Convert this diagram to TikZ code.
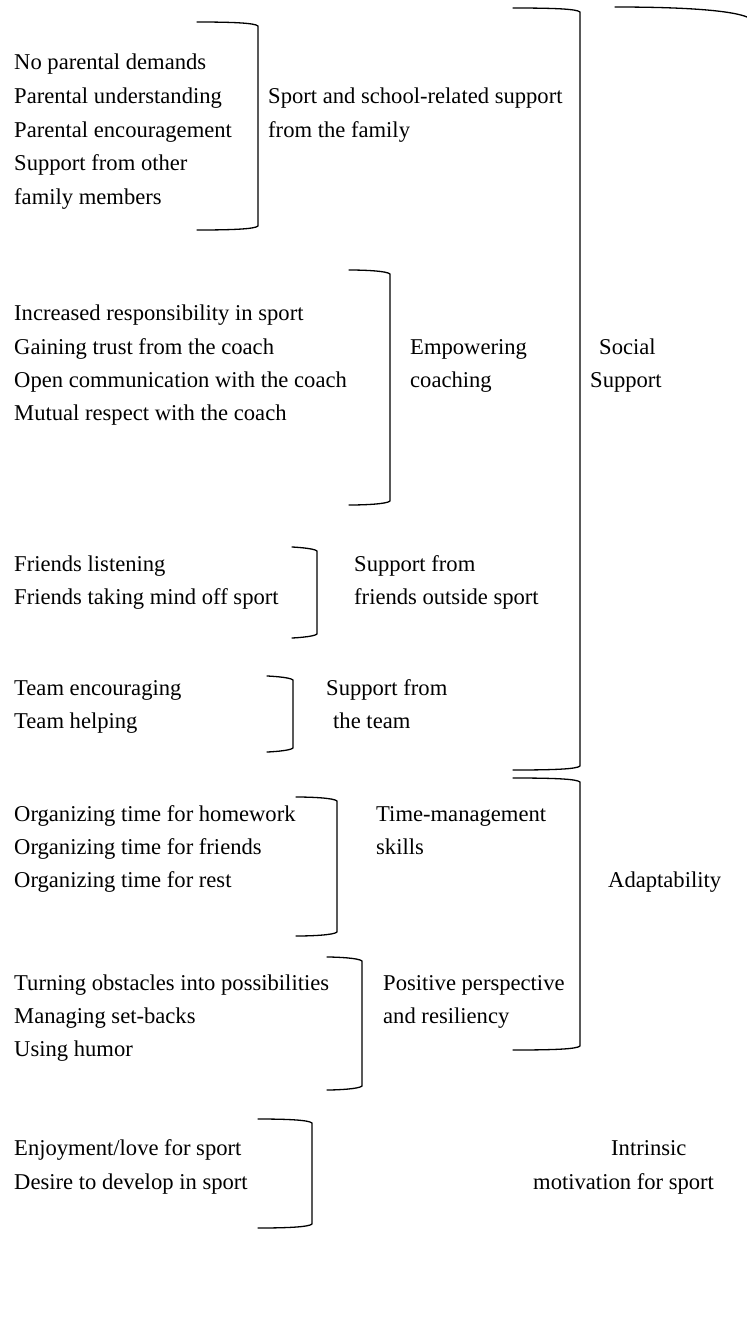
\documentclass[tikz,border=0pt]{standalone}
\usepackage{fontspec}
\setmainfont{Liberation Serif}
\begin{document}
\begin{tikzpicture}[x=1pt,y=-1pt,
  lbl/.style={anchor=base west,inner sep=0pt,font=\fontsize{22.6}{27}\selectfont},
  brk/.style={line width=1.3pt,line cap=round}]
\useasboundingbox[fill=white] (0,0) rectangle (747,1339);
% bracket macro: #1=x0, #2=xc, #3=ytop, #4=ybot
\newcommand{\brkt}[4]{%
  \draw[brk] (#1,#3) .. controls ({#2-25},#3) and ({#2-3},{#3+1}) .. (#2,{#3+4})
     -- (#2,{#4-4}) .. controls ({#2-3},{#4-1}) and ({#2-25},#4) .. (#1,#4);}
% family
\node[lbl] (f1) at (14,69) {No parental demands};
\node[lbl] (f2) at (14,103) {Parental understanding};
\node[lbl] (f3) at (14,137) {Parental encouragement};
\node[lbl] (f4) at (14,170) {Support from other};
\node[lbl] (f5) at (14,204) {family members};
\node[lbl] (fa) at (268,103) {Sport and school-related support};
\node[lbl] (fb) at (268,137) {from the family};
\brkt{197}{258}{22}{230}
% coaching
\node[lbl] (c1) at (14,320) {Increased responsibility in sport};
\node[lbl] (c2) at (14,354) {Gaining trust from the coach};
\node[lbl] (c3) at (14,387) {Open communication with the coach};
\node[lbl] (c4) at (14,420) {Mutual respect with the coach};
\node[lbl] (ca) at (410,354) {Empowering};
\node[lbl] (cb) at (410,387) {coaching};
\brkt{349}{390}{270}{505}
\node[lbl] (sa) at (599,354) {Social};
\node[lbl] (sb) at (590,387) {Support};
% friends
\node[lbl] (r1) at (14,571) {Friends listening};
\node[lbl] (r2) at (14,604) {Friends taking mind off sport};
\node[lbl] (ra) at (354,571) {Support from};
\node[lbl] (rb) at (354,604) {friends outside sport};
\brkt{292}{317}{547}{638}
% team
\node[lbl] (t1) at (14,695) {Team encouraging};
\node[lbl] (t2) at (14,728) {Team helping};
\node[lbl] (ta) at (326,695) {Support from};
\node[lbl] (tb) at (333,728) {the team};
\brkt{267}{293}{676}{752}
% social outer
\brkt{513}{580}{8}{770}
\draw[brk] (615,7) .. controls (700,7) and (735,12) .. (747,17);
% time management
\node[lbl] (m1) at (14,821) {Organizing time for homework};
\node[lbl] (m2) at (14,854) {Organizing time for friends};
\node[lbl] (m3) at (14,887) {Organizing time for rest};
\node[lbl] (ma) at (376,821) {Time-management};
\node[lbl] (mb) at (376,854) {skills};
\brkt{296}{337}{797}{936}
\node[lbl] (ad) at (608,887) {Adaptability};
% positive perspective
\node[lbl] (p1) at (14,990) {Turning obstacles into possibilities};
\node[lbl] (p2) at (14,1023) {Managing set-backs};
\node[lbl] (p3) at (14,1056) {Using humor};
\node[lbl] (pa) at (383,990) {Positive perspective};
\node[lbl] (pb) at (383,1023) {and resiliency};
\brkt{327}{362}{957}{1090}
% adaptability outer
\brkt{513}{580}{778}{1050}
% intrinsic
\node[lbl] (i1) at (14,1155) {Enjoyment/love for sport};
\node[lbl] (i2) at (14,1189) {Desire to develop in sport};
\node[lbl] (ia) at (611,1155) {Intrinsic};
\node[lbl] (ib) at (533,1189) {motivation for sport};
\brkt{258}{312}{1119}{1228}
\end{tikzpicture}
\end{document}
